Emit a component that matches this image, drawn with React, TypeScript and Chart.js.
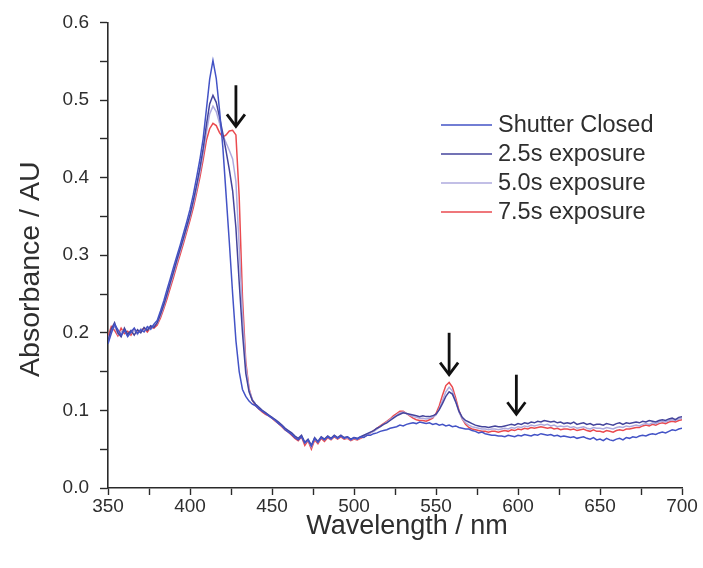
import React, { useEffect, useRef } from "react";
import { Chart, registerables } from "chart.js";

Chart.register(...registerables);

const WAVELENGTHS = [
  350, 352, 354, 356, 358, 360, 362, 364, 366, 368,
  370, 372, 374, 376, 378, 380, 382, 384, 386, 388,
  390, 392, 394, 396, 398, 400, 402, 404, 406, 408,
  410, 412, 414, 416, 418, 420, 422, 424, 426, 428,
  430, 432, 434, 436, 438, 440, 442, 444, 446, 448,
  450, 452, 454, 456, 458, 460, 462, 464, 466, 468,
  470, 472, 474, 476, 478, 480, 482, 484, 486, 488,
  490, 492, 494, 496, 498, 500, 502, 504, 506, 508,
  510, 512, 514, 516, 518, 520, 522, 524, 526, 528,
  530, 532, 534, 536, 538, 540, 542, 544, 546, 548,
  550, 552, 554, 556, 558, 560, 562, 564, 566, 568,
  570, 572, 574, 576, 578, 580, 582, 584, 586, 588,
  590, 592, 594, 596, 598, 600, 602, 604, 606, 608,
  610, 612, 614, 616, 618, 620, 622, 624, 626, 628,
  630, 632, 634, 636, 638, 640, 642, 644, 646, 648,
  650, 652, 654, 656, 658, 660, 662, 664, 666, 668,
  670, 672, 674, 676, 678, 680, 682, 684, 686, 688,
  690, 692, 694, 696, 698, 700,
];

const SHUTTER_CLOSED = [
  0.186, 0.199, 0.211, 0.204, 0.197, 0.203, 0.195, 0.201, 0.206, 0.199,
  0.204, 0.201, 0.208, 0.205, 0.211, 0.216, 0.228, 0.241, 0.256, 0.270,
  0.285, 0.299, 0.313, 0.328, 0.343, 0.359, 0.378, 0.400, 0.423, 0.450,
  0.488, 0.527, 0.551, 0.528, 0.487, 0.440, 0.378, 0.316, 0.250, 0.190,
  0.150, 0.127, 0.118, 0.112, 0.108, 0.106, 0.102, 0.099, 0.096, 0.093,
  0.090, 0.087, 0.083, 0.080, 0.075, 0.072, 0.069, 0.065, 0.062, 0.066,
  0.058, 0.062, 0.054, 0.064, 0.059, 0.065, 0.062, 0.066, 0.063, 0.067,
  0.064, 0.067, 0.064, 0.066, 0.062, 0.065, 0.063, 0.066, 0.065, 0.068,
  0.068, 0.070, 0.071, 0.073, 0.074, 0.075, 0.077, 0.078, 0.079, 0.081,
  0.080, 0.082, 0.083, 0.084, 0.083, 0.085, 0.084, 0.083, 0.084, 0.082,
  0.083, 0.081, 0.082, 0.080, 0.081, 0.079, 0.080, 0.078, 0.077, 0.076,
  0.076, 0.074, 0.073, 0.071, 0.072, 0.070, 0.069, 0.068, 0.068, 0.067,
  0.067, 0.066, 0.068, 0.067, 0.066, 0.068, 0.067, 0.069, 0.068, 0.067,
  0.069, 0.068, 0.070, 0.069, 0.068, 0.069, 0.067, 0.068, 0.066, 0.067,
  0.066, 0.065, 0.066, 0.064, 0.065, 0.066, 0.064, 0.063, 0.065, 0.062,
  0.063, 0.061, 0.064, 0.062, 0.061, 0.063, 0.064, 0.062, 0.065, 0.064,
  0.066, 0.065, 0.067, 0.068, 0.067, 0.069, 0.070, 0.069, 0.071, 0.072,
  0.071, 0.073, 0.075, 0.074, 0.076, 0.077,
];

const EXPOSURE_2_5S = [
  0.190, 0.205, 0.213, 0.200, 0.195, 0.206, 0.198, 0.203, 0.197, 0.204,
  0.200, 0.207, 0.203, 0.209, 0.207, 0.213, 0.224, 0.236, 0.250, 0.265,
  0.279, 0.294, 0.308, 0.322, 0.337, 0.352, 0.370, 0.390, 0.412, 0.437,
  0.468, 0.495, 0.506, 0.497, 0.478, 0.457, 0.434, 0.410, 0.383, 0.335,
  0.265, 0.200, 0.148, 0.124, 0.113, 0.108, 0.104, 0.100, 0.097, 0.094,
  0.091, 0.088, 0.085, 0.081, 0.077, 0.074, 0.071, 0.067, 0.064, 0.068,
  0.059, 0.063, 0.055, 0.065, 0.060, 0.066, 0.063, 0.067, 0.064, 0.068,
  0.065, 0.068, 0.065, 0.066, 0.063, 0.065, 0.064, 0.066, 0.068, 0.070,
  0.072, 0.074, 0.077, 0.079, 0.082, 0.084, 0.087, 0.090, 0.093, 0.095,
  0.097, 0.096, 0.095, 0.094, 0.093, 0.092, 0.093, 0.092, 0.092, 0.093,
  0.095, 0.101, 0.109, 0.118, 0.124, 0.121, 0.111, 0.099, 0.091, 0.087,
  0.085, 0.083, 0.081, 0.080, 0.079, 0.079, 0.078, 0.079, 0.080, 0.079,
  0.079, 0.080, 0.081, 0.082, 0.081, 0.083, 0.082, 0.084, 0.083, 0.085,
  0.084, 0.086, 0.085, 0.087, 0.086, 0.085, 0.086, 0.084, 0.085, 0.083,
  0.084, 0.083, 0.085, 0.082, 0.083, 0.084, 0.082, 0.083, 0.081, 0.082,
  0.082, 0.081, 0.083, 0.082, 0.081, 0.083, 0.084, 0.082, 0.084, 0.083,
  0.084, 0.085, 0.084, 0.086, 0.085, 0.087, 0.086, 0.085, 0.087, 0.088,
  0.087, 0.089, 0.090, 0.088, 0.091, 0.092,
];

const EXPOSURE_5_0S = [
  0.193, 0.202, 0.209, 0.198, 0.201, 0.204, 0.196, 0.200, 0.203, 0.198,
  0.205, 0.202, 0.206, 0.204, 0.209, 0.212, 0.222, 0.234, 0.248, 0.262,
  0.276, 0.291, 0.305, 0.319, 0.334, 0.349, 0.366, 0.385, 0.406, 0.430,
  0.458, 0.482, 0.492, 0.485, 0.470, 0.455, 0.445, 0.435, 0.424, 0.395,
  0.310, 0.225, 0.158, 0.127, 0.114, 0.108, 0.104, 0.100, 0.097, 0.094,
  0.091, 0.087, 0.084, 0.081, 0.077, 0.073, 0.070, 0.066, 0.063, 0.067,
  0.058, 0.062, 0.053, 0.064, 0.059, 0.065, 0.062, 0.066, 0.063, 0.067,
  0.064, 0.067, 0.064, 0.065, 0.062, 0.064, 0.063, 0.065, 0.067, 0.069,
  0.071, 0.073, 0.076, 0.079, 0.082, 0.085, 0.088, 0.091, 0.094, 0.097,
  0.098, 0.096, 0.094, 0.092, 0.091, 0.090, 0.090, 0.089, 0.090, 0.091,
  0.094, 0.102, 0.113, 0.124, 0.130, 0.125, 0.112, 0.098, 0.089, 0.084,
  0.081, 0.079, 0.078, 0.077, 0.076, 0.076, 0.075, 0.076, 0.076, 0.075,
  0.076, 0.077, 0.076, 0.078, 0.077, 0.079, 0.078, 0.080, 0.079, 0.081,
  0.080, 0.081, 0.082, 0.081, 0.082, 0.080, 0.081, 0.079, 0.080, 0.079,
  0.080, 0.078, 0.079, 0.077, 0.078, 0.079, 0.077, 0.076, 0.078, 0.077,
  0.077, 0.076, 0.078, 0.077, 0.076, 0.078, 0.079, 0.078, 0.080, 0.079,
  0.080, 0.081, 0.080, 0.082, 0.083, 0.082, 0.084, 0.083, 0.085, 0.086,
  0.085, 0.087, 0.088, 0.087, 0.089, 0.090,
];

const EXPOSURE_7_5S = [
  0.195, 0.208, 0.203, 0.196, 0.206, 0.199, 0.202, 0.197, 0.205, 0.200,
  0.203, 0.206, 0.201, 0.207, 0.206, 0.210, 0.219, 0.231, 0.244, 0.258,
  0.272, 0.287, 0.301, 0.315, 0.330, 0.345, 0.361, 0.380, 0.400, 0.423,
  0.448, 0.463, 0.470, 0.467, 0.458, 0.452, 0.455, 0.460, 0.461, 0.455,
  0.375, 0.245, 0.163, 0.128, 0.113, 0.106, 0.102, 0.098, 0.095, 0.093,
  0.090, 0.086, 0.083, 0.079, 0.075, 0.072, 0.068, 0.064, 0.061, 0.066,
  0.055, 0.061, 0.050, 0.062, 0.057, 0.064, 0.060, 0.065, 0.062, 0.066,
  0.063, 0.066, 0.063, 0.064, 0.061, 0.063, 0.062, 0.064, 0.066, 0.068,
  0.071, 0.074, 0.077, 0.080, 0.083, 0.086, 0.089, 0.093, 0.096, 0.099,
  0.099, 0.096, 0.093, 0.090, 0.088, 0.087, 0.087, 0.086, 0.088, 0.090,
  0.096, 0.106, 0.120, 0.132, 0.136, 0.130, 0.116, 0.100, 0.089, 0.082,
  0.078, 0.076, 0.075, 0.074, 0.073, 0.073, 0.072, 0.073, 0.073, 0.072,
  0.073, 0.074, 0.073, 0.075, 0.074, 0.076, 0.075, 0.077, 0.076, 0.078,
  0.077, 0.078, 0.079, 0.078, 0.077, 0.078, 0.076, 0.077, 0.075, 0.076,
  0.076, 0.075, 0.076, 0.074, 0.075, 0.076, 0.074, 0.073, 0.075, 0.073,
  0.073, 0.072, 0.074, 0.073, 0.072, 0.074, 0.075, 0.074, 0.076, 0.076,
  0.077, 0.078, 0.078, 0.080, 0.081, 0.080, 0.082, 0.081, 0.083, 0.084,
  0.083, 0.085, 0.086, 0.085, 0.087, 0.088,
];

const SERIES_LABELS = ["Shutter Closed", "2.5s exposure", "5.0s exposure", "7.5s exposure"];
const SERIES_VALUES = [SHUTTER_CLOSED, EXPOSURE_2_5S, EXPOSURE_5_0S, EXPOSURE_7_5S];
const SERIES_COLORS = ["#4353c6", "#44449c", "#aeaade", "#ea4a4f"];

const X_TITLE = "Wavelength / nm";
const Y_TITLE = "Absorbance / AU";

const ARROW_WAVELENGTHS = [428, 558, 599];
const ARROW_TOPS = [0.519, 0.2, 0.146];
const ARROW_TIPS = [0.466, 0.146, 0.095];

const TEXT_COLOR = "#2e2e2e";
const FONT_FAMILY = '"Liberation Sans", Arial, Helvetica, sans-serif';

const arrowPlugin = {
  id: "arrows",
  afterDatasetsDraw(chart: any) {
    const { ctx } = chart;
    const xs = chart.scales.x;
    const ys = chart.scales.y;
    ctx.save();
    ctx.strokeStyle = "#111111";
    ctx.lineWidth = 2.8;
    ctx.lineCap = "butt";
    ctx.lineJoin = "miter";
    ARROW_WAVELENGTHS.forEach((w, i) => {
      const x = xs.getPixelForValue(w);
      const yTop = ys.getPixelForValue(ARROW_TOPS[i]);
      const yTip = ys.getPixelForValue(ARROW_TIPS[i]);
      ctx.beginPath();
      ctx.moveTo(x, yTop);
      ctx.lineTo(x, yTip - 1);
      ctx.stroke();
      ctx.beginPath();
      ctx.moveTo(x - 9, yTip - 12);
      ctx.lineTo(x, yTip);
      ctx.lineTo(x + 9, yTip - 12);
      ctx.stroke();
    });
    ctx.restore();
  },
};

const textPlugin = {
  id: "customText",
  afterDraw(chart: any) {
    const { ctx, chartArea } = chart;
    ctx.save();
    // legend
    ctx.font = `23.5px ${FONT_FAMILY}`;
    ctx.textBaseline = "middle";
    ctx.textAlign = "left";
    chart.data.datasets.forEach((ds: any, i: number) => {
      const y = 125 + i * 29;
      ctx.strokeStyle = ds.borderColor;
      ctx.lineWidth = 1.6;
      ctx.beginPath();
      ctx.moveTo(441, y);
      ctx.lineTo(492, y);
      ctx.stroke();
      ctx.fillStyle = TEXT_COLOR;
      ctx.fillText(ds.label, 498, y + 1);
    });
    // axis titles
    ctx.fillStyle = TEXT_COLOR;
    ctx.font = `27px ${FONT_FAMILY}`;
    ctx.textAlign = "center";
    ctx.textBaseline = "middle";
    ctx.fillText(X_TITLE, (chartArea.left + chartArea.right) / 2 + 12, 527);
    ctx.save();
    ctx.translate(31, (chartArea.top + chartArea.bottom) / 2 + 14);
    ctx.rotate(-Math.PI / 2);
    ctx.font = `28.5px ${FONT_FAMILY}`;
    ctx.fillText(Y_TITLE, 0, 0);
    ctx.restore();
    ctx.restore();
  },
};

export default function App() {
  const ref = useRef<HTMLCanvasElement>(null);

  useEffect(() => {
    document.body.style.margin = "0";
    const canvas = ref.current;
    if (!canvas) return;
    const datasets = SERIES_VALUES.map((values, i) => ({
      label: SERIES_LABELS[i],
      data: WAVELENGTHS.map((w, j) => ({ x: w, y: values[j] })),
      borderColor: SERIES_COLORS[i],
      backgroundColor: SERIES_COLORS[i],
      borderWidth: 1.5,
      pointRadius: 0,
      tension: 0,
      fill: false,
    }));

    const chart = new Chart(canvas, {
      type: "line",
      data: { datasets },
      options: {
        animation: false,
        responsive: false,
        maintainAspectRatio: false,
        layout: { padding: { top: 20, right: 21, left: 0, bottom: 0 } },
        plugins: {
          legend: { display: false },
          tooltip: { enabled: false },
        },
        scales: {
          x: {
            type: "linear",
            min: 350,
            max: 700,
            ticks: {
              stepSize: 25,
              autoSkip: false,
              maxRotation: 0,
              padding: 0,
              color: TEXT_COLOR,
              font: { family: FONT_FAMILY, size: 19 },
              callback: (v: any) => (Number(v) % 50 === 0 ? String(v) : ""),
            },
            grid: {
              drawOnChartArea: false,
              drawTicks: true,
              tickLength: 7,
              tickColor: "#2a2a2a",
              tickWidth: 1.4,
            },
            border: { display: true, color: "#2a2a2a", width: 1.6 },
            title: { display: false, text: X_TITLE },
            afterFit: (s: any) => {
              s.height = 80;
            },
          },
          y: {
            type: "linear",
            min: 0,
            max: 0.6,
            ticks: {
              stepSize: 0.05,
              autoSkip: false,
              padding: 11,
              color: TEXT_COLOR,
              font: { family: FONT_FAMILY, size: 19 },
              callback: (v: any) => {
                const n = Math.round(Number(v) * 100);
                return n % 10 === 0 ? (n / 100).toFixed(1) : "";
              },
            },
            grid: {
              drawOnChartArea: false,
              drawTicks: true,
              tickLength: 8,
              tickColor: "#2a2a2a",
              tickWidth: 1.4,
            },
            border: { display: true, color: "#2a2a2a", width: 1.6 },
            title: { display: false, text: Y_TITLE },
            afterFit: (s: any) => {
              s.width = 108;
            },
          },
        },
      },
      plugins: [arrowPlugin, textPlugin],
    } as any);

    return () => chart.destroy();
  }, []);

  return (
    <div style={{ width: 703, height: 568, background: "#ffffff" }}>
      <canvas ref={ref} width={703} height={568} style={{ display: "block" }} />
    </div>
  );
}
